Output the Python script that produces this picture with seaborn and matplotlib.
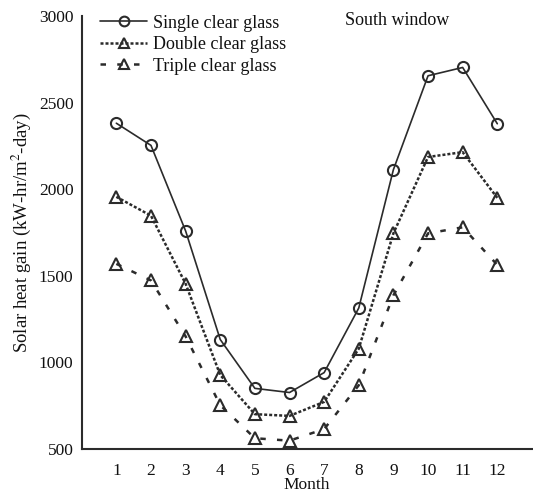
import matplotlib
matplotlib.use("Agg")
import matplotlib.pyplot as plt
import seaborn as sns
import pandas as pd

months = [1, 2, 3, 4, 5, 6, 7, 8, 9, 10, 11, 12]
single = [2381, 2253, 1759, 1132, 850, 826, 941, 1314, 2113, 2655, 2703, 2378]
double = [1956, 1847, 1454, 927, 701, 691, 772, 1079, 1745, 2186, 2214, 1950]
triple = [1569, 1473, 1150, 753, 562, 548, 615, 868, 1387, 1745, 1780, 1563]
series_names = ["Single clear glass", "Double clear glass", "Triple clear glass"]
ytick_vals = [500, 1000, 1500, 2000, 2500, 3000]
xtick_labels = ["1", "2", "3", "4", "5", "6", "7", "8", "9", "10", "11", "12"]

sns.set_style("white")
plt.rcParams["font.family"] = ["Liberation Serif", "DejaVu Serif"]
plt.rcParams["mathtext.fontset"] = "stix"

df = pd.DataFrame({
    "Month": months * 3,
    "Gain": single + double + triple,
    "Series": [series_names[0]] * 12 + [series_names[1]] * 12 + [series_names[2]] * 12,
})

fig = plt.figure(figsize=(5.33, 4.93), dpi=100)
ax = fig.add_axes([0.1533, 0.0893, 0.8447, 0.8782])

col = "#2b2b2b"
styles = {
    series_names[0]: dict(linestyle="-", marker="o", lw=1.2),
    series_names[1]: dict(linestyle=(0, (1.2, 0.8)), marker="^", lw=1.8),
    series_names[2]: dict(linestyle=(0, (2.2, 4.5)), marker="^", lw=1.8),
}
for name in series_names:
    st = styles[name]
    sub = df[df["Series"] == name]
    sns.lineplot(data=sub, x="Month", y="Gain", ax=ax, color=col,
                 linestyle=st["linestyle"], linewidth=st["lw"],
                 marker=st["marker"], markersize=8, markerfacecolor="none",
                 markeredgecolor=col, markeredgewidth=1.5, label=name)

ax.set_xlim(0, 13)
ax.set_ylim(500, 3000)
ax.set_xticks(range(0, 14))
ax.set_xticklabels([""] + xtick_labels + [""], fontsize=12.5)
ax.set_yticks(ytick_vals)
ax.set_yticklabels([str(v) for v in ytick_vals], fontsize=12.5)
ax.tick_params(axis="x", direction="out", length=7, width=1.2, color=col, pad=3)
ax.tick_params(axis="y", direction="out", length=5, width=1.2, color=col, pad=1)
ax.tick_params(labelcolor="#111111")

for s in ["top", "right"]:
    ax.spines[s].set_visible(False)
for s in ["left", "bottom"]:
    ax.spines[s].set_color(col)
    ax.spines[s].set_linewidth(1.5)

ax.set_xlabel("Month", fontsize=12.5, labelpad=-1, color="#111111")
ax.set_ylabel("Solar heat gain (kW-hr/m$^{2}$-day)", fontsize=13.5, labelpad=4, color="#111111")

leg = ax.legend(loc="upper left", bbox_to_anchor=(0.025, 1.02), frameon=False,
                fontsize=13, handlelength=2.6, handletextpad=0.3,
                labelspacing=0.25, borderaxespad=0)
for h in leg.legend_handles:
    h.set_markersize(7)
for t in leg.get_texts():
    t.set_color("#111111")

ax.text(0.585, 0.99, "South window", transform=ax.transAxes, fontsize=13,
        ha="left", va="center", color="#111111")

fig.savefig("out.png", dpi=100)
